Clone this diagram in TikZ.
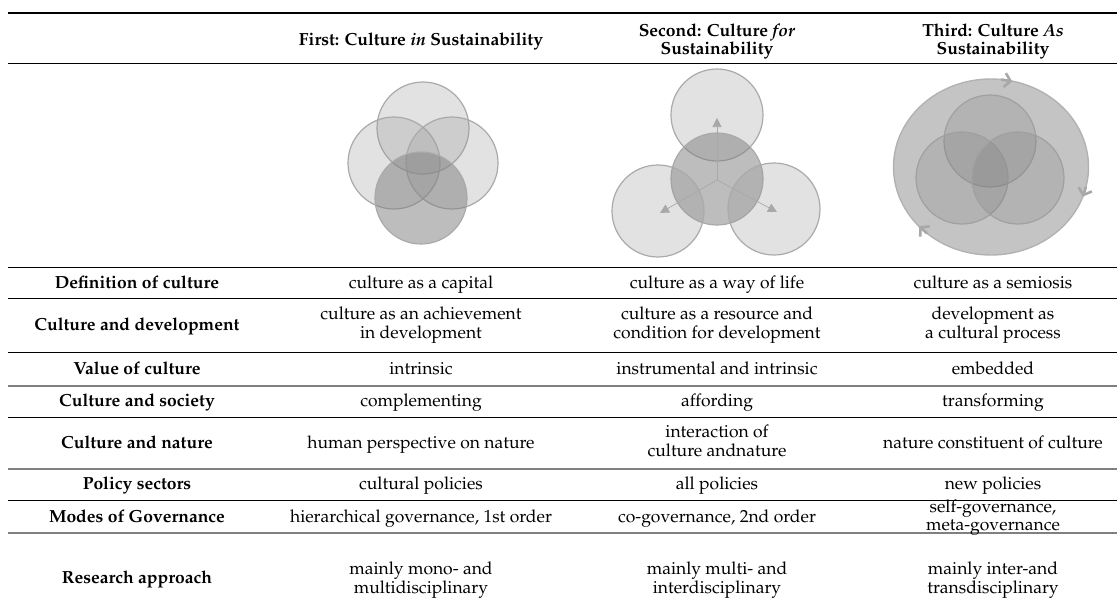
\documentclass[tikz,border=0pt]{standalone}
\usepackage[T1]{fontenc}
\usepackage{mathpazo}
\usetikzlibrary{arrows.meta}
\definecolor{edgec}{RGB}{170,170,170}
\definecolor{lightf}{RGB}{150,150,150}
\definecolor{darkf}{RGB}{130,130,130}
\definecolor{bigf}{RGB}{196,196,196}
\definecolor{bige}{RGB}{178,178,178}
\definecolor{innerf}{RGB}{100,100,100}
\definecolor{innere}{RGB}{160,160,160}
\definecolor{arrc}{RGB}{168,168,168}
\definecolor{rulegray}{RGB}{128,128,128}
\begin{document}
\begin{tikzpicture}[x=1pt,y=-1pt,
  txt/.style={font=\fontsize{17.5}{19}\selectfont, align=center, inner sep=0pt, anchor=base},
  lab/.style={txt, font=\fontsize{17.5}{19}\selectfont\bfseries},
  hdr/.style={txt, font=\fontsize{17.5}{18.5}\selectfont\bfseries},
  tight/.style={font=\fontsize{17.5}{18}\selectfont},
  blackrule/.style={line width=0.9pt, black},
  toprule/.style={line width=1.6pt, black},
  grayrule/.style={line width=1.5pt, rulegray},
  lightc/.style={draw=edgec, line width=1.2pt, fill=lightf, fill opacity=0.28},
  darkc/.style={draw=edgec, line width=1.2pt, fill=darkf, fill opacity=0.53},
  bigc/.style={draw=bige, line width=1.4pt, fill=bigf},
  innerc/.style={draw=innere, line width=1.2pt, fill=innerf, fill opacity=0.17},
  ray/.style={draw=arrc, line width=0.7pt, -{Triangle[length=9pt,width=9pt]}},
  chev/.style={draw=arrc, line width=2.6pt, -{Straight Barb[length=6pt,width=14pt]}}
]
\useasboundingbox (0,0) rectangle (1117,598);
% rules
\draw[toprule] (8,13) -- (1117,13);
\draw[blackrule] (8,63) -- (1117,63);
\draw[blackrule] (8,267) -- (1117,267);
\draw[blackrule] (8,298) -- (1117,298);
\draw[blackrule] (8,352) -- (1117,352);
\draw[grayrule] (8,386) -- (1117,386);
\draw[blackrule] (8,417) -- (1117,417);
\draw[grayrule] (8,469) -- (1117,469);
\draw[blackrule] (8,500) -- (1117,500);
\draw[grayrule] (8,533) -- (1117,533);

% headers
\node[hdr] (h1) at (421,45) {First: Culture \textit{in} Sustainability};
\node[hdr] (h2) at (717,54.5) {Second: Culture \textit{for}\\Sustainability};
\node[hdr] (h3) at (993,54.5) {Third: Culture \textit{As}\\Sustainability};

% diagram 1
\path[lightc] (423,128) circle (46);
\path[lightc] (394,163) circle (46);
\path[lightc] (452,163) circle (46);
\path[darkc] (421,198) circle (46);

% diagram 2
\path[lightc] (717,115) circle (46);
\path[darkc] (717,179) circle (46);
\path[lightc] (658,211) circle (46);
\path[lightc] (774,209) circle (46);
\coordinate (c2) at (717,180);
\coordinate (t2) at (717,118);
\coordinate (l2) at (660,213);
\coordinate (r2) at (777,212);
\draw[ray] (c2) -- (t2);
\draw[ray] (c2) -- (l2);
\draw[ray] (c2) -- (r2);

% diagram 3
\path[bigc] (991,167) ellipse (97.5 and 88);
\path[innerc] (990,141) circle (46);
\path[innerc] (962,178) circle (46);
\path[innerc] (1018,178) circle (46);
\coordinate (a1s) at (1001.2,79.5);
\coordinate (a1e) at (1012.3,81.4);
\coordinate (a2s) at (1086,186.8);
\coordinate (a2e) at (1082.8,196.6);
\coordinate (a3s) at (927,233.4);
\coordinate (a3e) at (919.2,226.3);
\draw[chev] (a1s) -- (a1e);
\draw[chev] (a2s) -- (a2e);
\draw[chev] (a3s) -- (a3e);

% row labels
\node[lab] (r1) at (137,288) {Definition of culture};
\node[lab] (r2) at (137,330.5) {Culture and development};
\node[lab] (r3) at (137,374) {Value of culture};
\node[lab] (r4) at (137,406.5) {Culture and society};
\node[lab] (r5) at (137,448.5) {Culture and nature};
\node[lab] (r6) at (137,489.5) {Policy sectors};
\node[lab] (r7) at (137,522) {Modes of Governance};
\node[lab] (r8) at (137,583) {Research approach};

% column 1
\node[txt] (a1) at (421,288) {culture as a capital};
\node[txt] (a2) at (421,338.5) {culture as an achievement\\in development};
\node[txt] (a3) at (421,374) {intrinsic};
\node[txt] (a4) at (421,406.5) {complementing};
\node[txt] (a5) at (421,448.5) {human perspective on nature};
\node[txt] (a6) at (421,489.5) {cultural policies};
\node[txt] (a7) at (421,522) {hierarchical governance, 1st order};
\node[txt] (a8) at (421,593.5) {mainly mono- and\\multidisciplinary};

% column 2
\node[txt] (b1) at (717,288) {culture as a way of life};
\node[txt] (b2) at (717,338.5) {culture as a resource and\\condition for development};
\node[txt] (b3) at (717,374) {instrumental and intrinsic};
\node[txt] (b4) at (717,406.5) {affording};
\node[txt] (b5) at (717,456.5) {interaction of\\culture andnature};
\node[txt] (b6) at (717,489.5) {all policies};
\node[txt] (b7) at (717,522) {co-governance, 2nd order};
\node[txt] (b8) at (717,593.5) {mainly multi- and\\interdisciplinary};

% column 3
\node[txt] (c1) at (993,288) {culture as a semiosis};
\node[txt] (c2t) at (993,338.5) {development as\\a cultural process};
\node[txt] (c3) at (993,374) {embedded};
\node[txt] (c4) at (993,406.5) {transforming};
\node[txt] (c5) at (993,448.5) {nature constituent of culture};
\node[txt] (c6) at (993,489.5) {new policies};
\node[txt, tight] (c7) at (993,530.5) {self-governance,\\meta-governance};
\node[txt] (c8) at (993,593.5) {mainly inter-and\\transdisciplinary};
\end{tikzpicture}
\end{document}
